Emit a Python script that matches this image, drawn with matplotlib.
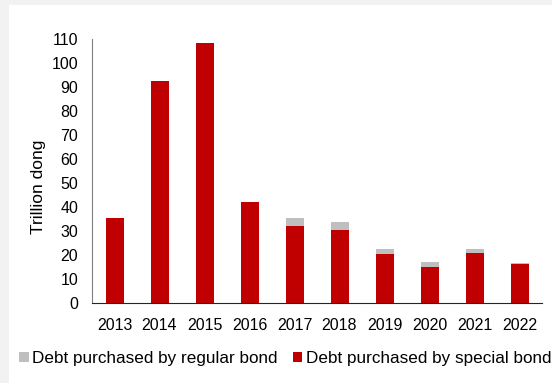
import matplotlib
matplotlib.use("Agg")
import matplotlib.pyplot as plt
from matplotlib.patches import Rectangle

years = ["2013", "2014", "2015", "2016", "2017", "2018", "2019", "2020", "2021", "2022"]
special_bond = [35.5, 92.6, 108.4, 42.1, 32.2, 30.6, 20.3, 15.0, 20.8, 16.1]
regular_bond = [0.0, 0.0, 0.0, 0.0, 3.1, 3.2, 2.2, 1.9, 1.8, 0.7]
yticks = list(range(0, 111, 10))

plt.rcParams['font.family'] = ['Liberation Sans', 'DejaVu Sans']

fig = plt.figure(figsize=(5.52, 3.83), dpi=100)
fig.patch.set_facecolor('#f2f2f2')
fig.patches.append(Rectangle((9/552, 0), 1, (383-5)/383, transform=fig.transFigure,
                             facecolor='white', edgecolor='none', zorder=-5))

ax = fig.add_axes([92/552, (383-303)/383, 450/552, 264/383])
ax.set_zorder(2)
ax.set_facecolor('none')
x = list(range(len(years)))
b1 = ax.bar(x, special_bond, width=0.4, color='#C00000', zorder=2)
b2 = ax.bar(x, regular_bond, width=0.4, bottom=special_bond, color='#BFBFBF', zorder=2)

ax.set_xlim(-0.5, len(years) - 0.5)
ax.set_ylim(0, 110)
ax.set_yticks(yticks)
ax.set_xticks(x)
ax.set_xticklabels(years)
ax.tick_params(axis='both', length=0, labelsize=11.5, colors='black')
ax.tick_params(axis='x', pad=11)
ax.tick_params(axis='y', pad=10)
for s in ['top', 'right']:
    ax.spines[s].set_visible(False)
ax.spines['left'].set_color('#7f7f7f')
ax.spines['bottom'].set_color('#262626')
ax.set_ylabel('Trillion dong', fontsize=12.5)
ax.yaxis.set_label_coords(-0.118, 0.44)
ax.yaxis.label.set_va('center')

fig.legend([b2, b1], ['Debt purchased by regular bond', 'Debt purchased by special bond'],
           loc='center', bbox_to_anchor=(0.517, 0.063), ncol=2, frameon=False, fontsize=12.3,
           handlelength=0.55, handleheight=0.55, handletextpad=0.2, columnspacing=0.9)

fig.savefig('out.png', dpi=100)
